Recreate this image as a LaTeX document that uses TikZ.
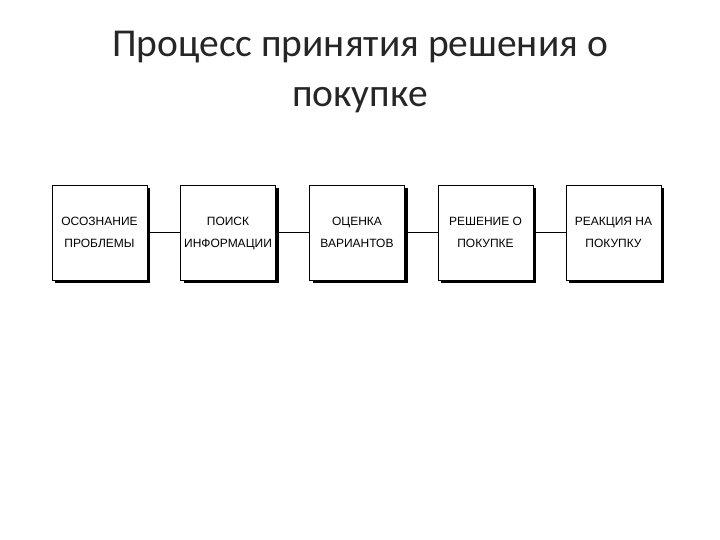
\documentclass[tikz,border=0pt]{standalone}
\usepackage{fontspec}
\setmainfont{Liberation Sans}
\newfontfamily\titlefont{Carlito}
\newcommand{\lnstrut}{\rule[-7pt]{0pt}{22pt}}
\begin{document}
\begin{tikzpicture}[x=1pt,y=1pt,
  stagebox/.style={draw=black,line width=0.8pt,fill=white,minimum width=95pt,minimum height=95pt,inner sep=0pt,
    align=center,font=\fontsize{12}{22}\selectfont},
  link/.style={draw=black,line width=1.8pt}]
\useasboundingbox (0,0) rectangle (720,540);
\node[font=\titlefont\fontsize{39.5}{50}\selectfont,align=center,text=black!85] (title) at (360,468) {Процесс принятия решения о\\покупке};
\foreach \i/\x in {1/99.5,2/228,3/357,4/485.5,5/613.5}{
  \fill[black] (\x-47.5+3,307.5-47.5-3) rectangle (\x+47.5+3,307.5+47.5-3);
}
\node[stagebox] (b1) at (99.5,307.5) {\lnstrut ОСОЗНАНИЕ\\\lnstrut ПРОБЛЕМЫ};
\node[stagebox] (b2) at (228,307.5) {\lnstrut ПОИСК\\\lnstrut ИНФОРМАЦИИ};
\node[stagebox] (b3) at (357,307.5) {\lnstrut ОЦЕНКА\\\lnstrut ВАРИАНТОВ};
\node[stagebox] (b4) at (485.5,307.5) {\lnstrut РЕШЕНИЕ О\\\lnstrut ПОКУПКЕ};
\node[stagebox] (b5) at (613.5,307.5) {\lnstrut РЕАКЦИЯ НА\\\lnstrut ПОКУПКУ};
\draw[link] (b1.east) -- (b2.west);
\draw[link] (b2.east) -- (b3.west);
\draw[link] (b3.east) -- (b4.west);
\draw[link] (b4.east) -- (b5.west);
\end{tikzpicture}
\end{document}
